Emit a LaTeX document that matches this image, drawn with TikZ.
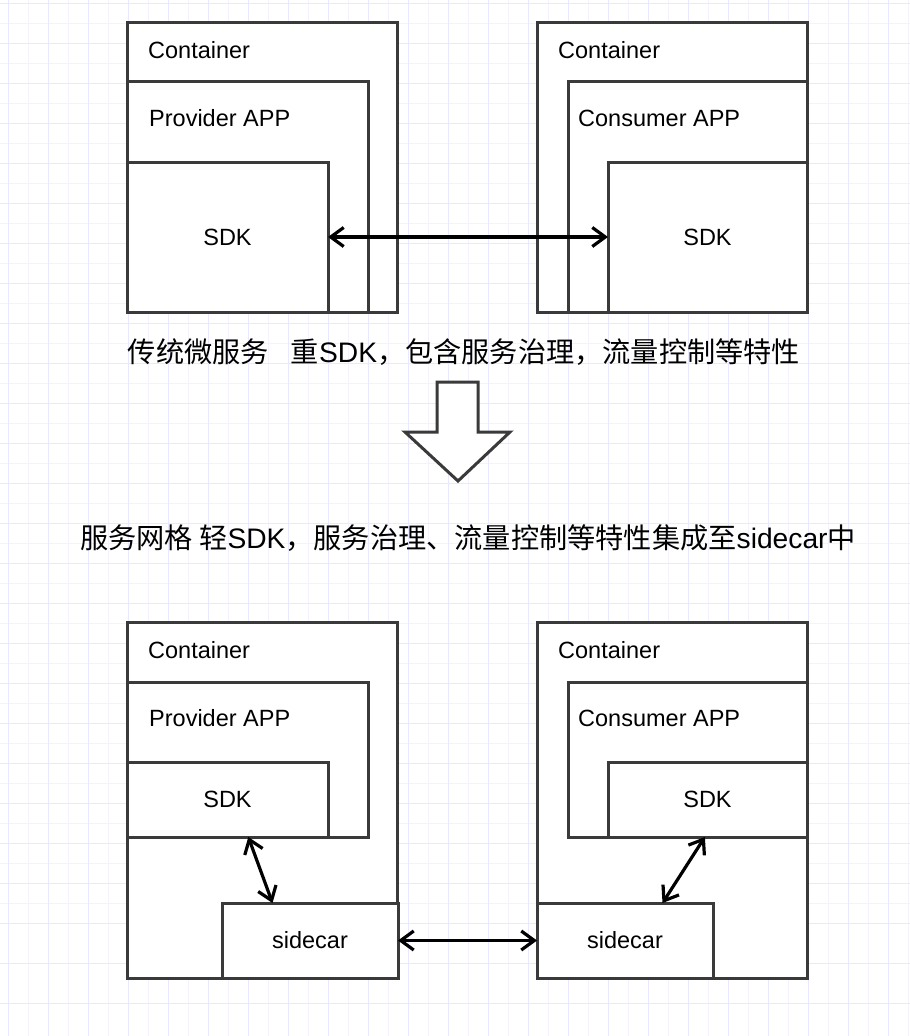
\documentclass[tikz,border=0pt]{standalone}
\usepackage{fontspec}
\setmainfont{Liberation Sans}
\newfontfamily\cjk{Noto Sans CJK SC}
\newcommand\zh[1]{{\cjk #1}}
\usetikzlibrary{arrows.meta}

\definecolor{gridminor}{HTML}{F3F3FF}
\definecolor{gridmajor}{HTML}{E8E8FF}
\definecolor{boxline}{HTML}{3A3A3A}

\tikzset{
  box/.style={draw=boxline, line width=3pt, fill=white, anchor=north west,
    inner sep=0pt, outer sep=0pt, font=\fontsize{23.5}{28}\selectfont},
  tag/.style={anchor=west, inner sep=0pt, font=\fontsize{23.5}{28}\selectfont},
  link/.style={black, line width=3.2pt,
    {Straight Barb[length=13pt,width=19pt]}-{Straight Barb[length=13pt,width=19pt]}},
  caption/.style={inner sep=0pt, font=\fontsize{28.2}{32}\selectfont},
}

\begin{document}
\begin{tikzpicture}[x=1pt, y=-1pt]
  \useasboundingbox (0,0) rectangle (910,1036);
  % grid
  \foreach \k in {0,...,22} {
    \draw[gridminor, line width=1.5pt] (28.3+40*\k,0) -- (28.3+40*\k,1036);
    \draw[gridminor, line width=1.5pt] (0,23.3+40*\k) -- (910,23.3+40*\k);
  }
  \foreach \k in {0,...,25} {
    \draw[gridmajor, line width=1.5pt] (8.3+40*\k,0) -- (8.3+40*\k,1036);
    \draw[gridmajor, line width=1.5pt] (0,3.3+40*\k) -- (910,3.3+40*\k);
  }

  % traditional: heavy SDK
  \node[box, minimum width=270pt, minimum height=290pt] (contTL) at (127,22) {};
  \node[box, minimum width=241pt, minimum height=231pt] (appTL) at (127,81) {};
  \node[box, minimum width=201pt, minimum height=150pt] (sdkTL) at (127,162) {SDK};
  \node[box, minimum width=270pt, minimum height=290pt] (contTR) at (537,22) {};
  \node[box, minimum width=239pt, minimum height=231pt] (appTR) at (568,81) {};
  \node[box, minimum width=199pt, minimum height=150pt] (sdkTR) at (608,162) {SDK};
  \node[tag] (lblContTL) at (148,50) {Container};
  \node[tag] (lblAppTL) at (149,118) {Provider APP};
  \node[tag] (lblContTR) at (558,50) {Container};
  \node[tag] (lblAppTR) at (578,118) {Consumer APP};
  \draw[link] (sdkTL.east) -- (sdkTR.west);

  \node[caption] (capTop) at (464,352)
    {\zh{传统微服务}\hspace{22pt}\zh{重}SDK\zh{，包含服务治理，流量控制等特性}};

  % big down arrow
  \draw[boxline, line width=3pt, fill=white, line join=miter]
    (437,382) -- (478,382) -- (478,432) -- (510,432) -- (458,481)
    -- (405,432) -- (437,432) -- cycle;

  \node[caption] (capMid) at (468,538)
    {\zh{服务网格 轻}SDK\zh{，服务治理、流量控制等特性集成至}sidecar\zh{中}};

  % service mesh: light SDK + sidecar
  \node[box, minimum width=270pt, minimum height=356pt] (contBL) at (127,622) {};
  \node[box, minimum width=241pt, minimum height=155pt] (appBL) at (127,682) {};
  \node[box, minimum width=201pt, minimum height=75pt] (sdkBL) at (127,762) {SDK};
  \node[box, minimum width=176pt, minimum height=75pt] (carL) at (222,903) {sidecar};
  \node[box, minimum width=270pt, minimum height=356pt] (contBR) at (537,622) {};
  \node[box, minimum width=239pt, minimum height=155pt] (appBR) at (568,682) {};
  \node[box, minimum width=199pt, minimum height=75pt] (sdkBR) at (608,762) {SDK};
  \node[box, minimum width=176pt, minimum height=75pt] (carR) at (537,903) {sidecar};
  \node[tag] (lblContBL) at (148,650) {Container};
  \node[tag] (lblAppBL) at (149,718) {Provider APP};
  \node[tag] (lblContBR) at (558,650) {Container};
  \node[tag] (lblAppBR) at (578,718) {Consumer APP};
  \draw[link] (sdkBL.-61) -- (carL.135);
  \draw[link] (sdkBR.-94) -- (carR.45);
  \draw[link] (carL.east) -- (carR.west);
\end{tikzpicture}
\end{document}
